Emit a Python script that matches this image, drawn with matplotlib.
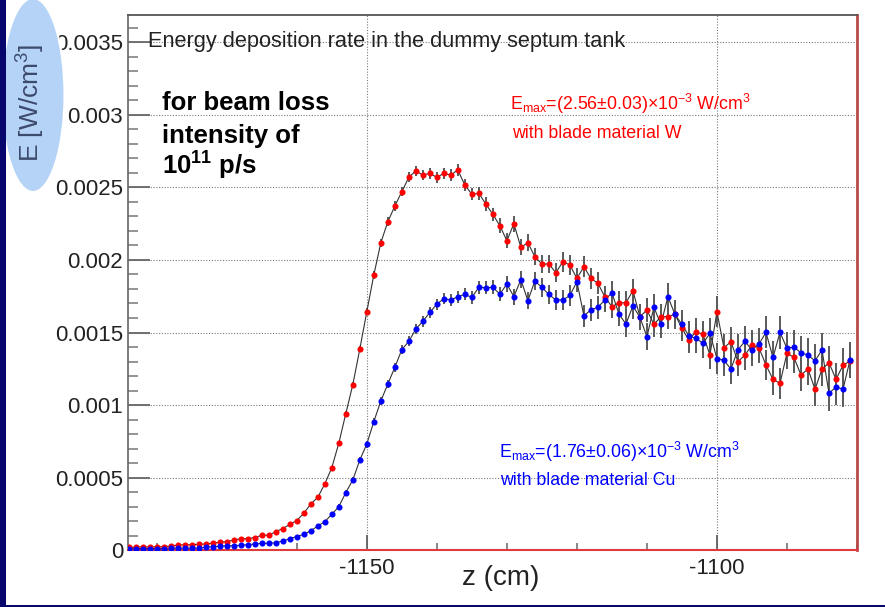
import numpy as np
import matplotlib
matplotlib.use('Agg')
import matplotlib.pyplot as plt
from matplotlib.patches import Ellipse, Rectangle
from matplotlib.ticker import MultipleLocator, FixedLocator

plt.rcParams['font.family'] = 'Liberation Sans'
plt.rcParams['mathtext.fontset'] = 'custom'
plt.rcParams['mathtext.rm'] = 'Liberation Sans'
plt.rcParams['mathtext.it'] = 'Liberation Sans'
plt.rcParams['mathtext.bf'] = 'Liberation Sans:bold'
plt.rcParams['mathtext.default'] = 'regular'

# z bin centres (cm), 1 cm bins
z = np.arange(-1184, -1080)

# energy deposition, units of 1e-3 W/cm^3
e_W = np.array([
    0.020, 0.022, 0.025, 0.022, 0.025, 0.024, 0.030, 0.036, 0.038, 0.038,
    0.042, 0.043, 0.050, 0.055, 0.060, 0.070, 0.080, 0.080, 0.088, 0.103,
    0.104, 0.128, 0.150, 0.178, 0.205, 0.255, 0.319, 0.365, 0.457, 0.569,
    0.737, 0.941, 1.140, 1.386, 1.643, 1.896, 2.118, 2.263, 2.371, 2.470,
    2.569, 2.614, 2.584, 2.596, 2.569, 2.596, 2.585, 2.619, 2.516, 2.452,
    2.459, 2.385, 2.314, 2.236, 2.132, 2.249, 2.087, 2.118, 2.022, 1.972,
    1.972, 1.912, 1.988, 1.965, 1.873, 1.953, 1.873, 1.839, 1.745, 1.678,
    1.705, 1.705, 1.788, 1.609, 1.655, 1.556, 1.609, 1.609, 1.625, 1.529,
    1.448, 1.506, 1.487, 1.345, 1.643, 1.395, 1.437, 1.299, 1.345, 1.414,
    1.395, 1.276, 1.178, 1.150, 1.357, 1.329, 1.207, 1.249, 1.109, 1.247,
    1.292, 1.178, 1.274, 1.304])
err_W = np.array([
    0.004, 0.004, 0.004, 0.004, 0.004, 0.004, 0.004, 0.004, 0.004, 0.004,
    0.005, 0.005, 0.005, 0.005, 0.005, 0.005, 0.005, 0.005, 0.005, 0.005,
    0.008, 0.008, 0.009, 0.010, 0.010, 0.011, 0.012, 0.013, 0.014, 0.015,
    0.017, 0.019, 0.021, 0.023, 0.025, 0.027, 0.029, 0.030, 0.032, 0.033,
    0.034, 0.036, 0.036, 0.037, 0.037, 0.038, 0.038, 0.040, 0.041, 0.042,
    0.043, 0.045, 0.047, 0.050, 0.052, 0.056, 0.055, 0.058, 0.060, 0.062,
    0.064, 0.066, 0.068, 0.068, 0.070, 0.072, 0.074, 0.075, 0.076, 0.078,
    0.080, 0.080, 0.083, 0.083, 0.085, 0.086, 0.088, 0.088, 0.090, 0.090,
    0.092, 0.094, 0.094, 0.096, 0.108, 0.097, 0.099, 0.100, 0.101, 0.102,
    0.103, 0.104, 0.106, 0.107, 0.108, 0.108, 0.110, 0.111, 0.112, 0.113,
    0.114, 0.115, 0.116, 0.117])

e_Cu = np.array([
    0.012, 0.012, 0.012, 0.012, 0.012, 0.012, 0.015, 0.015, 0.015, 0.015,
    0.015, 0.022, 0.025, 0.029, 0.031, 0.032, 0.034, 0.039, 0.043, 0.048,
    0.048, 0.052, 0.064, 0.080, 0.095, 0.110, 0.135, 0.167, 0.197, 0.248,
    0.300, 0.397, 0.484, 0.622, 0.732, 0.886, 1.028, 1.145, 1.260, 1.382,
    1.439, 1.524, 1.577, 1.639, 1.695, 1.733, 1.724, 1.747, 1.763, 1.742,
    1.811, 1.809, 1.811, 1.765, 1.834, 1.747, 1.864, 1.719, 1.855, 1.811,
    1.762, 1.724, 1.724, 1.755, 1.850, 1.616, 1.655, 1.674, 1.724, 1.774,
    1.627, 1.559, 1.683, 1.605, 1.471, 1.674, 1.556, 1.747, 1.625, 1.556,
    1.476, 1.460, 1.426, 1.494, 1.321, 1.308, 1.249, 1.382, 1.439, 1.380,
    1.421, 1.501, 1.328, 1.501, 1.391, 1.400, 1.360, 1.345, 1.305, 1.380,
    1.081, 1.125, 1.109, 1.311])
err_Cu = np.array([
    0.003, 0.003, 0.003, 0.003, 0.003, 0.003, 0.003, 0.003, 0.003, 0.003,
    0.004, 0.004, 0.004, 0.004, 0.004, 0.004, 0.004, 0.004, 0.004, 0.004,
    0.006, 0.006, 0.007, 0.008, 0.009, 0.010, 0.011, 0.012, 0.013, 0.014,
    0.016, 0.018, 0.020, 0.022, 0.024, 0.026, 0.028, 0.030, 0.031, 0.032,
    0.034, 0.035, 0.036, 0.037, 0.038, 0.039, 0.040, 0.041, 0.042, 0.043,
    0.045, 0.047, 0.049, 0.051, 0.053, 0.055, 0.057, 0.059, 0.061, 0.063,
    0.065, 0.067, 0.069, 0.071, 0.073, 0.075, 0.077, 0.079, 0.081, 0.083,
    0.085, 0.087, 0.088, 0.090, 0.092, 0.093, 0.095, 0.096, 0.098, 0.099,
    0.100, 0.101, 0.102, 0.103, 0.104, 0.105, 0.106, 0.107, 0.108, 0.109,
    0.110, 0.111, 0.112, 0.113, 0.114, 0.115, 0.116, 0.117, 0.118, 0.119,
    0.120, 0.121, 0.122, 0.123])

ytick_vals = [0, 0.0005, 0.001, 0.0015, 0.002, 0.0025, 0.003, 0.0035]
ytick_labels = ['0', '0.0005', '0.001', '0.0015', '0.002', '0.0025', '0.003', '0.0035']
xtick_vals = [-1150, -1100]
xtick_labels = ['-1150', '-1100']

fig = plt.figure(figsize=(8.85, 6.07), dpi=100)
fig.patch.set_facecolor('white')

# slide background strips
fig.patches.append(Rectangle((0, 0), 6 / 885, 1, transform=fig.transFigure,
                             facecolor='#06066c', edgecolor='none', zorder=0))
fig.patches.append(Rectangle((0, 0), 1, 2.5 / 607, transform=fig.transFigure,
                             facecolor='#06066c', edgecolor='none', zorder=0))

ax = fig.add_axes([128 / 885, (607 - 550.3) / 607, 729 / 885, 535.3 / 607])

for e, err, col in [(e_W, err_W, '#ff0000'), (e_Cu, err_Cu, '#0000ff')]:
    ax.errorbar(z, e * 1e-3, yerr=err * 1e-3, fmt='none', ecolor='#5a5a5a',
                elinewidth=1.4, capsize=0, zorder=2)
    ax.plot(z, e * 1e-3, color='#333333', lw=0.8, zorder=3)
    ax.plot(z, e * 1e-3, 'o', ms=4.4, mfc=col, mec=col, mew=0, zorder=4)

ax.set_xlim(-1184.1, -1080.0)
ax.set_ylim(0, 0.003687)

ax.xaxis.set_major_locator(FixedLocator(xtick_vals))
ax.xaxis.set_minor_locator(MultipleLocator(10))
ax.set_xticklabels(xtick_labels)
ax.yaxis.set_major_locator(FixedLocator(ytick_vals))
ax.yaxis.set_minor_locator(MultipleLocator(0.0001))
ax.set_yticklabels(ytick_labels)

ax.tick_params(axis='y', which='major', direction='in', length=16, width=1.3,
               color='#666666', pad=3.6, labelsize=16, labelcolor='#222222')
ax.tick_params(axis='y', which='minor', direction='in', length=7.5, width=1.1,
               color='#777777')
ax.tick_params(axis='x', which='major', direction='in', length=11, width=1.2,
               color='#555555', pad=5.5, labelsize=16, labelcolor='#222222')
ax.tick_params(axis='x', which='minor', direction='in', length=5, width=1.1,
               color='#666666')

ax.grid(True, which='major', color='#7a7a7a', linestyle=(0, (1, 1.5)), lw=0.8)
ax.set_axisbelow(True)

ax.spines['left'].set_color('#666666')
ax.spines['left'].set_linewidth(1.2)
ax.spines['top'].set_color('#555555')
ax.spines['top'].set_linewidth(1.3)
ax.spines['right'].set_color('#b84a4a')
ax.spines['right'].set_linewidth(2)
ax.spines['bottom'].set_color('#e03a3a')
ax.spines['bottom'].set_linewidth(1.5)

ax.text(-1181.3, 0.003466, 'Energy deposition rate in the dummy septum tank',
        fontsize=15.7, color='#222222', va='baseline', ha='left')

ax.text(-1179.3, 0.003032, 'for beam loss', fontsize=18.5, weight='bold',
        va='baseline', ha='left')
ax.text(-1179.3, 0.002805, 'intensity of', fontsize=18.5, weight='bold',
        va='baseline', ha='left')
ax.text(-1179.3, 0.002585, '10$^{11}$ p/s', fontsize=18.5, weight='bold',
        va='baseline', ha='left')

ax.text(-1129.57, 0.003032, 'E$_{max}$=(2.56±0.03)×10$^{-3}$ W/cm$^3$',
        fontsize=12.8, color='#ff0000', va='baseline', ha='left')
ax.text(-1129.3, 0.00284, 'with blade material W',
        fontsize=12.8, color='#ff0000', va='baseline', ha='left')
ax.text(-1131.14, 0.000636, 'E$_{max}$=(1.76±0.06)×10$^{-3}$ W/cm$^3$',
        fontsize=12.8, color='#0000ff', va='baseline', ha='left')
ax.text(-1131.0, 0.00045, 'with blade material Cu',
        fontsize=12.8, color='#0000ff', va='baseline', ha='left')

fig.text(501 / 885, (607 - 585) / 607, 'z (cm)', fontsize=20, color='#222222',
         ha='center', va='baseline')

# highlighted y-axis title, drawn over the tick labels
ax.add_artist(Ellipse((0.33, (607 - 95) / 100), 0.63, 1.94,
                      transform=fig.dpi_scale_trans, facecolor='#b4d3f7',
                      edgecolor='white', lw=1.5, zorder=10, clip_on=False))
ax.text(31 / 885, 1 - 103 / 607, 'E [W/cm$^3$]', rotation=90, fontsize=19,
        color='#3c4a6c', ha='center', va='center', transform=fig.transFigure,
        zorder=11)

fig.savefig('out.png', dpi=100)
